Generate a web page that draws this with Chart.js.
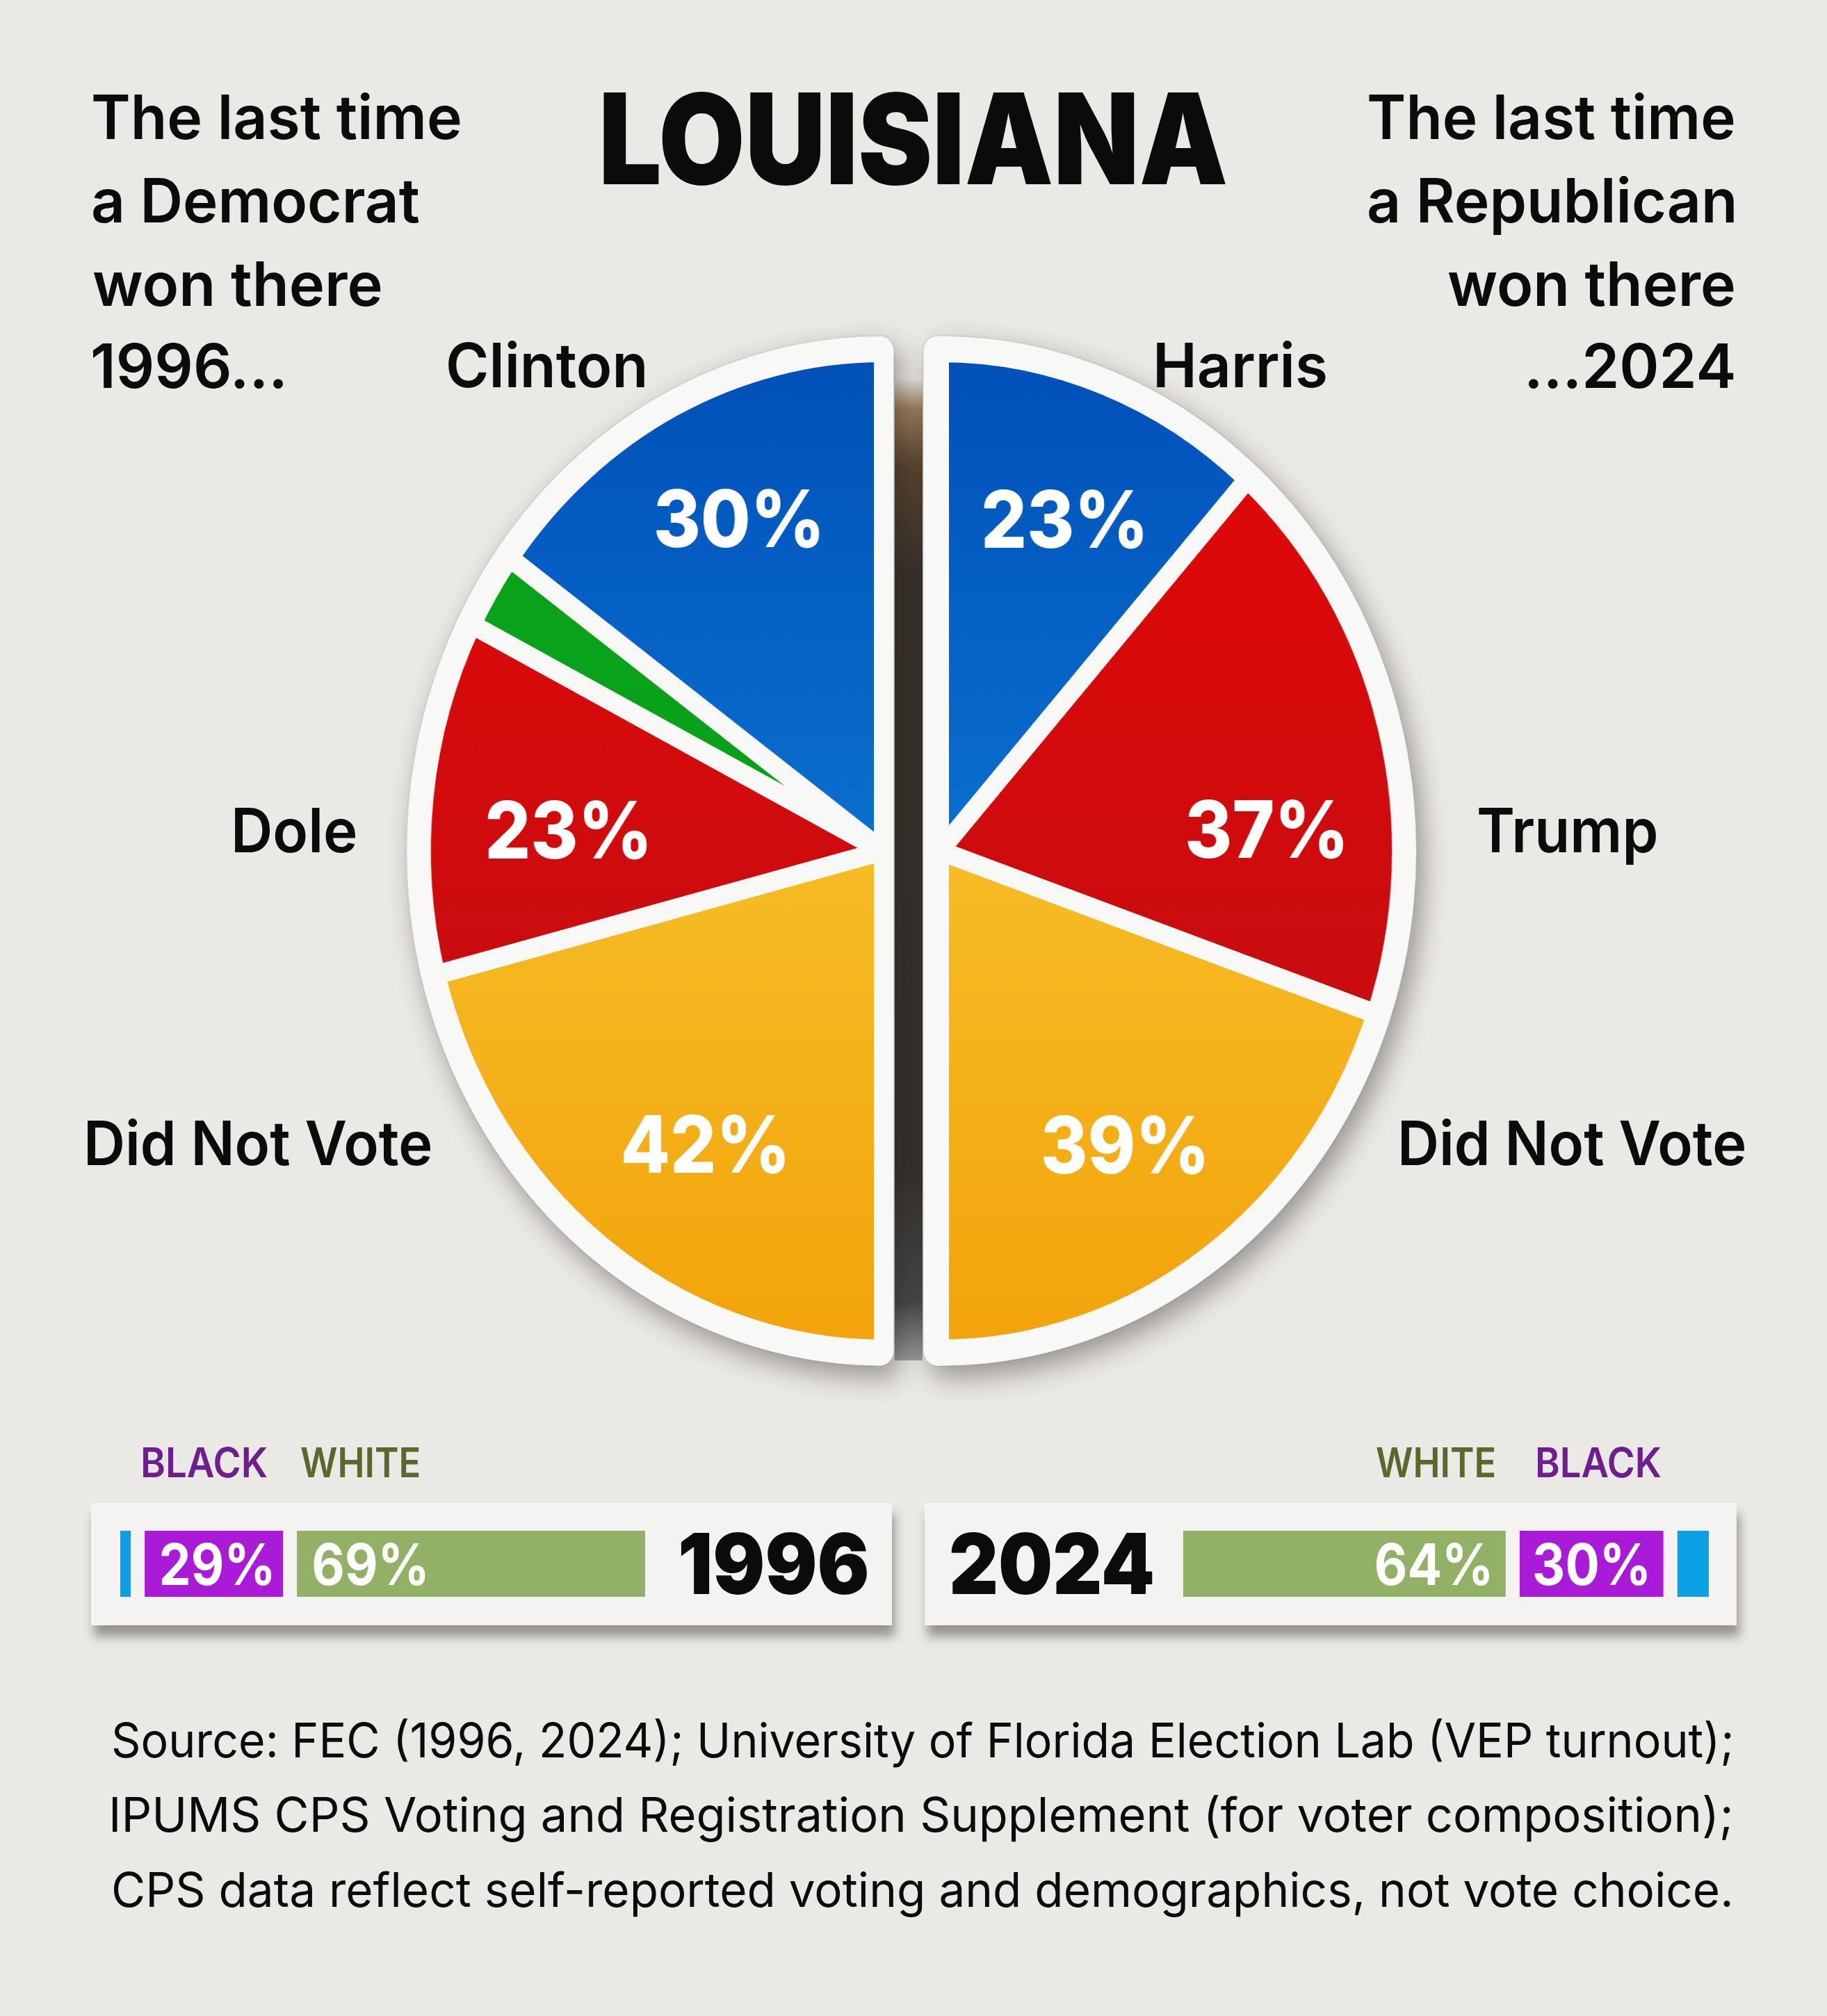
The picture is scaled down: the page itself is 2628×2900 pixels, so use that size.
<!DOCTYPE html>
<html lang="en"><head><meta charset="utf-8"><title>Louisiana</title>
<script src="https://cdn.jsdelivr.net/npm/chart.js@4.4.1/dist/chart.umd.min.js"></script>
<style>
html,body{margin:0;padding:0}
body{width:2628px;height:2900px;position:relative;overflow:hidden;background:#ebe9e6;}
.t{position:absolute;white-space:nowrap;margin:0;padding:0;transform-origin:0 0;}
.card{position:absolute;background:#f4f3f2;box-shadow:4px 16px 14px rgba(35,30,25,.42);}
.chartbox{position:absolute;}
.chartbox canvas{display:block}
#gap{position:absolute;left:1287px;top:545px;width:40px;height:1412px;
background:linear-gradient(to bottom,rgba(200,180,160,0) 0%,#a0805f 3%,#5a4632 9%,#3a332d 20%,#36322f 80%,#4a4a4a 94%,rgba(110,110,110,0.6) 100%);}
</style></head><body>
<div id="gap"></div>
<div class="chartbox" style="left:470px;top:404px;width:883px;height:1640px;transform-origin:800px 820px;transform:scaleX(.925)"><canvas id="pie1996" width="883" height="1640" style="width:883px;height:1640px"></canvas></div>
<div class="chartbox" style="left:1269px;top:404px;width:883px;height:1640px;transform-origin:83px 820px;transform:scaleX(.925)"><canvas id="pie2024" width="883" height="1640" style="width:883px;height:1640px"></canvas></div>
<div class="card" style="left:131px;top:2162px;width:1152px;height:176px"></div>
<div class="card" style="left:1330px;top:2162px;width:1168px;height:176px"></div>
<div class="chartbox" style="left:173px;top:2202px;width:755px;height:95px"><canvas id="bar1996" width="755" height="95" style="width:755px;height:95px"></canvas></div>
<div class="chartbox" style="left:1702px;top:2202px;width:756px;height:95px"><canvas id="bar2024" width="756" height="95" style="width:756px;height:95px"></canvas></div>
<script>
// ---------------- DATA ----------------
const pieCats1996 = ['Did Not Vote', 'Dole', 'Other', 'Clinton'];
const pieVals1996 = [42, 23, 5, 30];
const pieCats2024 = ['Harris', 'Trump', 'Did Not Vote'];
const pieVals2024 = [23, 37, 39];
const barCats1996 = ['Other', 'Black', 'White'];
const barVals1996 = [2, 29, 69];
const barCats2024 = ['White', 'Black', 'Other'];
const barVals2024 = [64, 30, 6];
const years = ['1996', '2024'];

// ---------------- STYLE ----------------
const FAMILY = 'Inter, "Noto Sans", sans-serif';
const CARD = '#f4f3f2';
const PLATE = '#f8f8f7';
const PIE_R = 717;
const pieStyle = {
  'Clinton': [[0, '#0050b9'], [0.5, '#0a70cf']],
  'Harris': [[0, '#0050b9'], [0.5, '#0a70cf']],
  'Dole': [[0.1, '#e00808'], [0.7, '#c70d10']],
  'Trump': [[0.1, '#e00808'], [0.7, '#c70d10']],
  'Other': [[0, '#0aa61a'], [1, '#06991a']],
  'Did Not Vote': [[0.5, '#f6bd26'], [1, '#f3a30b']]
};
const barStyle = { 'Black': '#a91bd7', 'White': '#93b166', 'Other': '#0aa0e6' };
Chart.defaults.font.family = FAMILY;

function pieFill(cats) {
  return (ctx) => {
    const stops = pieStyle[cats[ctx.dataIndex]];
    const chart = ctx.chart, area = chart.chartArea;
    if (!stops) return '#999';
    if (!area) return stops[0][1];
    const cy = (area.top + area.bottom) / 2;
    const g = chart.ctx.createLinearGradient(0, cy - PIE_R, 0, cy + PIE_R);
    stops.forEach(s => g.addColorStop(s[0], s[1]));
    return g;
  };
}

function drawFitted(c, text, x, baseline, align, s) {
  c.textAlign = 'left';
  const m = c.measureText(text);
  const aL = m.actualBoundingBoxLeft, aR = m.actualBoundingBoxRight;
  let ox;
  if (align === 'left') ox = x + s * aL;
  else if (align === 'right') ox = x - s * aR;
  else ox = x - s * (aR - aL) / 2;
  c.save(); c.translate(ox, baseline); c.scale(s, 1); c.fillText(text, 0, 0); c.restore();
}
function capRatio(c, weight) {
  c.font = weight + ' 200px ' + FAMILY;
  return c.measureText('H').actualBoundingBoxAscent / 200;
}
function inkWidth(c, text) {
  const m = c.measureText(text);
  return m.actualBoundingBoxLeft + m.actualBoundingBoxRight;
}

// white plate behind each half pie
const platePlugin = {
  id: 'plate',
  beforeDatasetsDraw(chart, args, o) {
    const arc = chart.getDatasetMeta(0).data[0];
    if (!arc) return;
    const x = arc.x, y = arc.y, Rp = arc.outerRadius - 14 + o.rim;
    const sgn = o.side === 'left' ? 1 : -1;
    const ex = x + sgn * o.edge, rc = 22;
    const c = chart.ctx;
    c.save();
    c.shadowColor = 'rgba(30,25,20,0.42)';
    c.shadowBlur = 40; c.shadowOffsetX = 10; c.shadowOffsetY = 16;
    c.fillStyle = PLATE;
    c.beginPath();
    c.moveTo(x, y - Rp);
    c.arc(x, y, Rp, -Math.PI / 2, Math.PI / 2, sgn > 0);
    c.lineTo(ex - sgn * rc, y + Rp);
    c.arcTo(ex, y + Rp, ex, y + Rp - rc, rc);
    c.lineTo(ex, y - Rp + rc);
    c.arcTo(ex, y - Rp, ex - sgn * rc, y - Rp, rc);
    c.closePath();
    c.fill();
    c.restore();
    c.save();
    c.strokeStyle = 'rgba(0,0,0,0.08)'; c.lineWidth = 2;
    c.stroke();
    c.restore();
  }
};

const sliceLabelPlugin = {
  id: 'sliceLabels',
  afterDatasetsDraw(chart, args, o) {
    const meta = chart.getDatasetMeta(0), ds = chart.data.datasets[0];
    const c = chart.ctx;
    c.save();
    const size = o.cap / capRatio(c, o.weight);
    c.font = o.weight + ' ' + size + 'px ' + FAMILY;
    c.fillStyle = '#ffffff';
    const s = o.refWidth / inkWidth(c, o.refText);
    meta.data.forEach((arc, i) => {
      const v = ds.data[i];
      if (v < o.min) return;
      const mid = (arc.startAngle + arc.endAngle) / 2 + (o.nudge[i] || 0) * Math.PI / 180;
      const r = arc.outerRadius * o.radius[i];
      const lx = arc.x + r * Math.cos(mid), ly = arc.y + r * Math.sin(mid);
      drawFitted(c, v + '%', lx, ly + o.cap / 2, 'center', s);
    });
    c.restore();
  }
};

const barLabelPlugin = {
  id: 'barLabels',
  afterDatasetsDraw(chart, args, o) {
    const c = chart.ctx;
    c.save();
    const size = o.cap / capRatio(c, o.weight);
    c.font = o.weight + ' ' + size + 'px ' + FAMILY;
    c.fillStyle = '#ffffff';
    const s = o.refWidth / inkWidth(c, o.refText);
    chart.data.datasets.forEach((ds, i) => {
      const v = ds.data[0];
      if (v < o.min) return;
      const bar = chart.getDatasetMeta(i).data[0];
      const bw = ds.borderWidth;
      const left = Math.min(bar.base, bar.x) + (bw.left || 0);
      const right = Math.max(bar.base, bar.x) - (bw.right || 0);
      const base = bar.y + o.cap / 2;
      if (o.align === 'left') drawFitted(c, v + '%', left + o.pad, base, 'left', s);
      else drawFitted(c, v + '%', right - o.pad, base, 'right', s);
    });
    c.restore();
  }
};

function pieChart(id, cats, vals, rotation, plateOpts, labelOpts) {
  return new Chart(document.getElementById(id), {
    type: 'pie',
    data: {
      labels: cats,
      datasets: [{
        data: vals,
        backgroundColor: pieFill(cats),
        borderColor: PLATE,
        borderWidth: 28,
        hoverOffset: 0
      }]
    },
    options: {
      responsive: false, animation: false, events: [],
      rotation: rotation, circumference: 180, radius: PIE_R,
      layout: { padding: 0 },
      plugins: {
        legend: { display: false }, tooltip: { enabled: false },
        plate: plateOpts,
        sliceLabels: labelOpts
      }
    },
    plugins: [platePlugin, sliceLabelPlugin]
  });
}

const pieLabelBase = { cap: 83, weight: 800, refText: '30%', refWidth: 254, min: 10 };
pieChart('pie1996', pieCats1996, pieVals1996, 180,
  { side: 'left', rim: 38, edge: 17 },
  Object.assign({}, pieLabelBase, { nudge: [-4.4, -2.7, 0, 1.7], radius: [0.704, 0.686, 0.7, 0.738] }));
pieChart('pie2024', pieCats2024, pieVals2024, 0,
  { side: 'right', rim: 38, edge: 26 },
  Object.assign({}, pieLabelBase, { nudge: [1.0, 11, 1.4], radius: [0.718, 0.707, 0.711] }));

function barChart(id, cats, vals, borders, align) {
  return new Chart(document.getElementById(id), {
    type: 'bar',
    data: {
      labels: [''],
      datasets: cats.map((c, i) => ({
        label: c, data: [vals[i]],
        backgroundColor: barStyle[c],
        borderColor: CARD,
        borderWidth: borders[i],
        borderSkipped: false,
        inflateAmount: 0,
        categoryPercentage: 1, barPercentage: 1
      }))
    },
    options: {
      indexAxis: 'y', responsive: false, animation: false, events: [],
      layout: { padding: 0 },
      scales: {
        x: { stacked: true, min: 0, max: 100, display: false },
        y: { stacked: true, display: false }
      },
      plugins: {
        legend: { display: false }, tooltip: { enabled: false },
        barLabels: { align: align, pad: 24, cap: 60, weight: 700, refText: '29%', refWidth: 158, min: 10 }
      }
    },
    plugins: [barLabelPlugin]
  });
}
barChart('bar1996', barCats1996, barVals1996,
  [{ left: 0, right: 0, top: 0, bottom: 0 }, { left: 20, right: 0, top: 0, bottom: 0 }, { left: 20, right: 0, top: 0, bottom: 0 }], 'left');
barChart('bar2024', barCats2024, barVals2024,
  [{ left: 0, right: 20, top: 0, bottom: 0 }, { left: 0, right: 20, top: 0, bottom: 0 }, { left: 0, right: 0, top: 0, bottom: 0 }], 'right');

// ---------------- TEXT ----------------
const INK = '#0b0b0b', PURPLE = '#6d1f8d', OLIVE = '#59692c';
const TEXTS = [
  { text: 'LOUISIANA', weight: 900, cap: 132, x: 868, anchor: 'left', w: 895, base: 265 },
  { text: 'The last time', weight: 600, cap: 64, x: 134, anchor: 'left', w: 528, base: 200 },
  { text: 'a Democrat', weight: 600, cap: 64, x: 134, anchor: 'left', w: 469, base: 320 },
  { text: 'won there', weight: 600, cap: 64, x: 134, anchor: 'left', w: 414, base: 440 },
  { text: '1996...', weight: 600, cap: 64, x: 134, anchor: 'left', w: 273, base: 558 },
  { text: 'The last time', weight: 600, cap: 64, x: 2494, anchor: 'right', w: 525, base: 200 },
  { text: 'a Republican', weight: 600, cap: 64, x: 2494, anchor: 'right', w: 525, base: 320 },
  { text: 'won there', weight: 600, cap: 64, x: 2494, anchor: 'right', w: 411, base: 440 },
  { text: '...2024', weight: 600, cap: 64, x: 2494, anchor: 'right', w: 295, base: 558 },
  { text: pieCats1996[3], weight: 600, cap: 64, x: 645, anchor: 'left', w: 282, base: 557 },
  { text: pieCats2024[0], weight: 600, cap: 64, x: 1664, anchor: 'left', w: 243, base: 557 },
  { text: pieCats1996[1], weight: 600, cap: 64, x: 338, anchor: 'left', w: 174, base: 1226 },
  { text: pieCats2024[1], weight: 600, cap: 64, x: 2127, anchor: 'left', w: 255, base: 1226 },
  { text: pieCats1996[0], weight: 600, cap: 64, x: 126, anchor: 'left', w: 494, base: 1676 },
  { text: pieCats2024[2], weight: 600, cap: 64, x: 2016, anchor: 'left', w: 494, base: 1676 },
  { text: 'BLACK', weight: 600, cap: 43, x: 206, anchor: 'left', w: 178, base: 2125, color: PURPLE },
  { text: 'WHITE', weight: 600, cap: 43, x: 433, anchor: 'left', w: 170, base: 2125, color: OLIVE },
  { text: 'WHITE', weight: 600, cap: 43, x: 1980, anchor: 'left', w: 170, base: 2125, color: OLIVE },
  { text: 'BLACK', weight: 600, cap: 43, x: 2212, anchor: 'left', w: 177, base: 2125, color: PURPLE },
  { text: years[0], weight: 900, cap: 88, x: 980, anchor: 'left', w: 268, base: 2293 },
  { text: years[1], weight: 900, cap: 88, x: 1369, anchor: 'left', w: 289, base: 2293 },
  { text: 'Source: FEC (1996, 2024); University of Florida Election Lab (VEP turnout);', weight: 400, cap: 50, x: 1326, anchor: 'center', w: 2327, base: 2528 },
  { text: 'IPUMS CPS Voting and Registration Supplement (for voter composition);', weight: 400, cap: 50, x: 1326, anchor: 'center', w: 2327, base: 2635 },
  { text: 'CPS data reflect self-reported voting and demographics, not vote choice.', weight: 400, cap: 50, x: 1326, anchor: 'center', w: 2325, base: 2743 }
];

const mctx = document.createElement('canvas').getContext('2d');
function placeText(t) {
  const size = t.cap / capRatio(mctx, t.weight);
  const font = t.weight + ' ' + size + 'px ' + FAMILY;
  mctx.font = font; mctx.textAlign = 'left';
  const m = mctx.measureText(t.text);
  const aL = m.actualBoundingBoxLeft, aR = m.actualBoundingBoxRight;
  const s = t.w ? t.w / (aL + aR) : 1;
  let ox;
  if (t.anchor === 'left') ox = t.x + s * aL;
  else if (t.anchor === 'right') ox = t.x - s * aR;
  else ox = t.x - s * (aR - aL) / 2;
  const el = document.createElement('div');
  el.className = 't';
  el.style.font = font;
  el.style.color = t.color || INK;
  el.textContent = t.text;
  const mk = document.createElement('span');
  mk.style.cssText = 'display:inline-block;width:0;height:0;vertical-align:baseline';
  el.appendChild(mk);
  document.body.appendChild(el);
  const baseOff = mk.offsetTop;
  el.style.left = ox + 'px';
  el.style.top = (t.base - baseOff) + 'px';
  el.style.transform = 'scaleX(' + s + ')';
}
TEXTS.forEach(placeText);
</script>
</body></html>
